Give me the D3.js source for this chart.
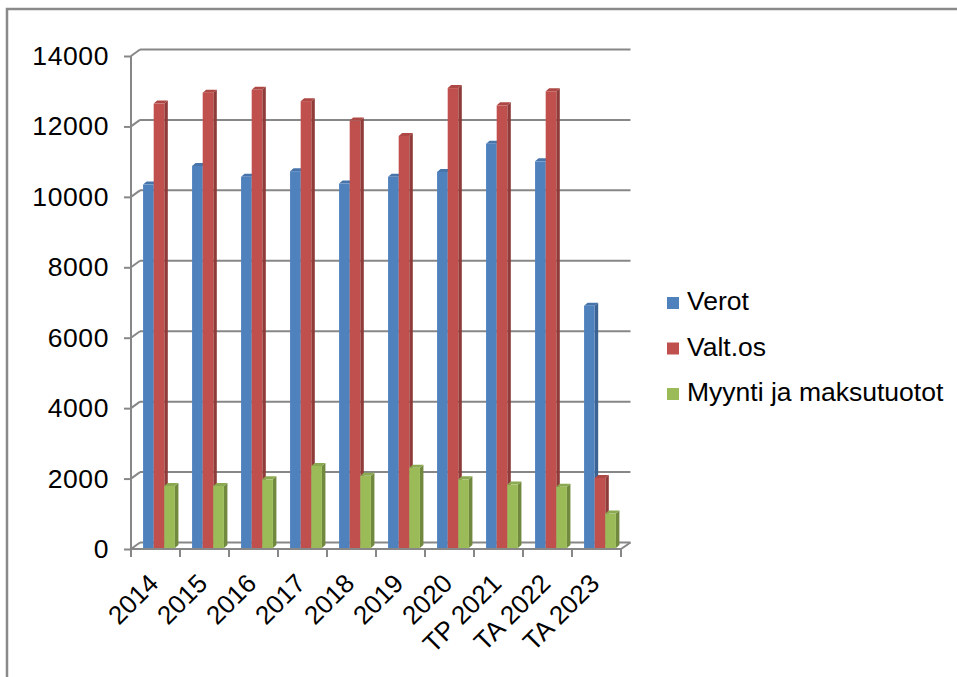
<!DOCTYPE html>
<html><head><meta charset="utf-8">
<script src="https://cdn.jsdelivr.net/npm/d3@7"></script>
<style>body{margin:0;background:#fff}svg{display:block}text{font-family:"Liberation Sans",Arial,sans-serif;fill:#000}</style>
</head><body><svg id="c" width="957" height="677"></svg>
<script>
const categories = ["2014","2015","2016","2017","2018","2019","2020","TP 2021","TA 2022","TA 2023"];
const seriesNames = ["Verot","Valt.os","Myynti ja maksutuotot"];
const verot   = [10320,10850,10540,10700,10350,10540,10680,11480,10980,6880];
const valtos  = [12620,12930,13010,12690,12140,11700,13060,12570,12970,1990];
const myynti  = [1760,1760,1950,2330,2050,2280,1950,1800,1740,980];
const yTicks  = [0,2000,4000,6000,8000,10000,12000,14000];
const colors  = ["#4F81BD","#C0504D","#9BBB59"];
const sideCol = ["#3A6394","#8E3B39","#71893F"];
const topCol  = ["#4775AB","#AD4845","#8BA950"];

const svg = d3.select("#c");
const values = [verot, valtos, myynti];
const data = categories.map((c,i)=>({cat:c, vals:values.map(v=>v[i])}));
const FS = 26.5, FSX = 26;

// frame border
svg.append("path").attr("d","M7,677V9H957").attr("fill","none").attr("stroke","#8a8a8a").attr("stroke-width",2.5);

const x0 = d3.scaleBand().domain(categories).range([131,621]).paddingInner(0.35).paddingOuter(0.175);
const x1 = d3.scaleBand().domain(seriesNames).range([0,x0.bandwidth()]);
const y = d3.scaleLinear().domain([0,14000]).range([549,56]);
const dx = 9, dy = -6.5; // wall depth
const grid = "#878787";

// back gridlines + left diagonal connectors
const g = svg.append("g");
yTicks.forEach(t=>{
  g.append("line").attr("x1",131+dx).attr("x2",621+dx+0.5).attr("y1",y(t)+dy).attr("y2",y(t)+dy)
   .attr("stroke",grid).attr("stroke-width",2);
  g.append("line").attr("x1",131).attr("x2",131+dx).attr("y1",y(t)).attr("y2",y(t)+dy)
   .attr("stroke",grid).attr("stroke-width",2);
});
// floor front edge and right edge
g.append("line").attr("x1",131).attr("x2",621).attr("y1",y(0)).attr("y2",y(0)).attr("stroke",grid).attr("stroke-width",2);
g.append("line").attr("x1",621).attr("x2",621+dx+0.5).attr("y1",y(0)).attr("y2",y(0)+dy).attr("stroke",grid).attr("stroke-width",2);

// bars
const bd = 3.5, bdy = -3, shift = 3.5, base = y(0)-1;
const bars = svg.append("g");
data.forEach(d=>{
  d.vals.forEach((v,s)=>{
    const xs = x0(d.cat)+x1(seriesNames[s])+shift;
    const w = x1.bandwidth();
    const yt = y(v)-1;
    bars.append("path").attr("d",`M${xs+w},${yt}L${xs+w+bd},${yt+bdy}L${xs+w+bd},${base+bdy}L${xs+w},${base}Z`).attr("fill",sideCol[s]);
    bars.append("path").attr("d",`M${xs},${yt}L${xs+bd},${yt+bdy}L${xs+w+bd},${yt+bdy}L${xs+w},${yt}Z`).attr("fill",topCol[s]);
    bars.append("rect").attr("x",xs).attr("y",yt).attr("width",w).attr("height",base-yt).attr("fill",colors[s]);
  });
});

// y axis
const yAxis = d3.axisLeft(y).tickValues(yTicks).tickSize(7).tickPadding(15).tickFormat(d3.format("d"));
const ya = svg.append("g").attr("transform","translate(131,0)").call(yAxis);
ya.select(".domain").attr("stroke",grid).attr("stroke-width",2).attr("d","M0,56V549");
ya.selectAll(".tick line").attr("stroke",grid).attr("stroke-width",2);
ya.selectAll(".tick text").attr("font-size",FS).attr("font-family","Liberation Sans, Arial").attr("fill","#000")
  .attr("letter-spacing","0.6px");

// x axis
const xAxis = d3.axisBottom(x0).tickSize(0).tickFormat(d=>d);
const xa = svg.append("g").attr("transform",`translate(0,${y(0)})`).call(xAxis);
xa.select(".domain").remove();
const tickXs = d3.range(categories.length+1).map(i=>131+i*x0.step());
tickXs.forEach(tx=>xa.append("line").attr("x1",tx).attr("x2",tx).attr("y1",0).attr("y2",8).attr("stroke",grid).attr("stroke-width",2));
xa.selectAll(".tick text").attr("font-size",FSX).attr("font-family","Liberation Sans, Arial").attr("fill","#000")
  .attr("text-anchor","end").attr("dy",0).attr("y",0)
  .attr("transform","translate(4.5,36) rotate(-45)");

// legend
const lg = svg.append("g").attr("transform","translate(667,310)");
seriesNames.forEach((n,i)=>{
  const r = lg.append("g").attr("transform",`translate(0,${i*45.5})`);
  r.append("rect").attr("x",0).attr("y",-13).attr("width",12).attr("height",12).attr("fill",colors[i]);
  r.append("text").attr("x",20).attr("y",0).attr("font-size",FS).text(n);
});
</script></body></html>
